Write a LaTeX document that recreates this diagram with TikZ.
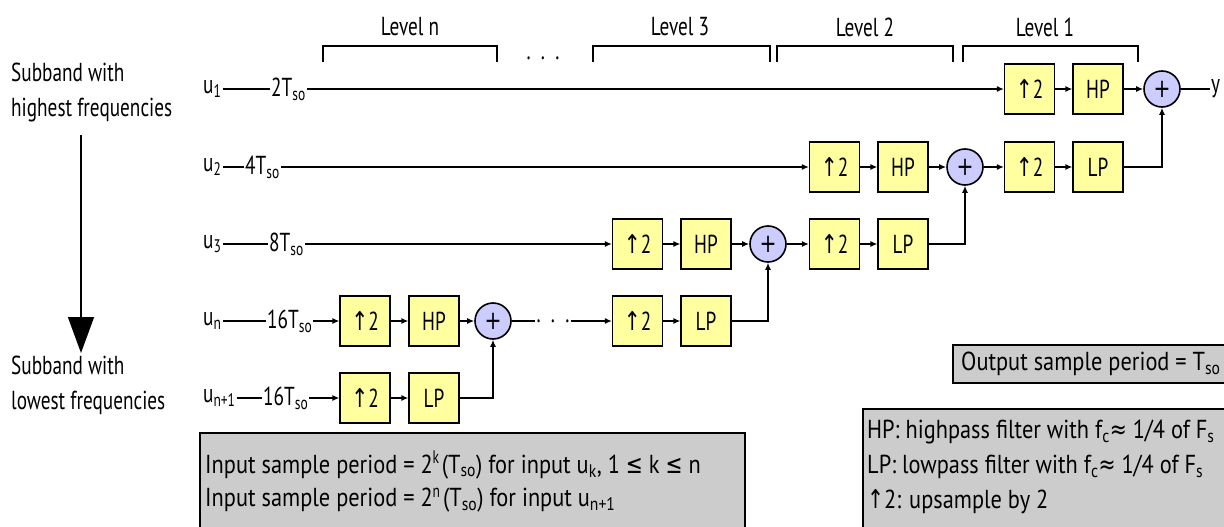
\documentclass[tikz,border=0pt]{standalone}
\usepackage{fontspec}
\setmainfont{PT Sans}[FakeStretch=0.74]
\newfontfamily\notef{PT Sans}[FakeStretch=0.86]
\newfontfamily\symf{DejaVu Sans}[FakeStretch=0.78]
\usetikzlibrary{arrows.meta}
\definecolor{boxy}{RGB}{255,255,160}
\definecolor{sumc}{RGB}{204,204,255}
\definecolor{notegray}{RGB}{204,204,204}
\newcommand\lo[1]{\textsubscript{#1}}
\newcommand\upa{{\symf ↑}}
\tikzset{
  every node/.style={font=\fontsize{26}{35}\selectfont, inner sep=1pt},
  stepbox/.style={draw, fill=boxy, line width=1.3pt, minimum width=50pt, minimum height=50pt, inner sep=0pt},
  sumnode/.style={draw, circle, fill=sumc, line width=1.6pt, minimum size=36pt, inner sep=0pt, font=\fontsize{26}{26}\symf},
  conn/.style={line width=1.3pt},
  arr/.style={conn, -{Latex[length=7pt,width=6pt]}},
  lbl/.style={anchor=west},
  notetext/.style={anchor=west, font=\fontsize{26}{35}\notef},
  notebox/.style={draw, fill=notegray, line width=1.3pt},
  bracket/.style={line width=1.3pt}
}
\begin{document}
\begin{tikzpicture}[x=1pt,y=-1pt]
\useasboundingbox (0,0) rectangle (1224,527);

% level brackets
\draw[bracket] (323,62) -- (323,46) -- (497,46) -- (497,62);
\draw[bracket] (593,62) -- (593,46) -- (770,46) -- (770,62);
\draw[bracket] (777,62) -- (777,46) -- (953,46) -- (953,62);
\draw[bracket] (963,62) -- (963,46) -- (1138,46) -- (1138,62);
\node (lvn) at (410,27) {Level n};
\node (lv3) at (680,27) {Level 3};
\node (lv2) at (865,27) {Level 2};
\node (lv1) at (1045,27) {Level 1};
\node (topdots) at (543,58) {.\ \ .\ \ .};

% left side
\node[anchor=north west, align=left] (hi) at (10,62) {Subband with\\highest frequencies};
\node[anchor=north west, align=left] (lo) at (10,355) {Subband with\\lowest frequencies};
\coordinate (arrtop) at (81,135);
\coordinate (arrbot) at (81,353);
\draw[line width=1.5pt, -{Triangle[length=36pt,width=26pt]}] (arrtop) -- (arrbot);

% blocks
\node[stepbox] (up1) at (1029.5,89) {\upa2};
\node[stepbox] (hp1) at (1098,89) {HP};
\node[sumnode] (s1) at (1162,89) {+};
\node[lbl] (yout) at (1210,89) {y};

\node[stepbox] (up2a) at (834.5,167) {\upa2};
\node[stepbox] (hp2) at (903,167) {HP};
\node[sumnode] (s2) at (965,167) {+};
\node[stepbox] (up2b) at (1029.5,167) {\upa2};
\node[stepbox] (lp2) at (1098,167) {LP};

\node[stepbox] (up3a) at (637.5,244) {\upa2};
\node[stepbox] (hp3) at (706,244) {HP};
\node[sumnode] (s3) at (768,244) {+};
\node[stepbox] (up3b) at (834.5,244) {\upa2};
\node[stepbox] (lp3) at (903,244) {LP};

\node[stepbox] (up4a) at (365,321) {\upa2};
\node[stepbox] (hp4) at (434,321) {HP};
\node[sumnode] (s4) at (493,321) {+};
\node (d4) at (553,321) {.\ \ .\ \ .};
\node[stepbox] (up4b) at (637.5,321) {\upa2};
\node[stepbox] (lp4) at (706,321) {LP};

\node[stepbox] (up5) at (365,398) {\upa2};
\node[stepbox] (lp5) at (434,398) {LP};

% inputs
\node[lbl] (u1) at (202,89) {u\lo{1}};
\node[lbl] (t1) at (270,89) {2T\lo{so}};
\node[lbl] (u2) at (202,167) {u\lo{2}};
\node[lbl] (t2) at (244,167) {4T\lo{so}};
\node[lbl] (u3) at (202,244) {u\lo{3}};
\node[lbl] (t3) at (268,244) {8T\lo{so}};
\node[lbl] (u4) at (202,321) {u\lo{n}};
\node[lbl] (t4) at (266,321) {16T\lo{so}};
\node[lbl] (u5) at (202,398) {u\lo{n+1}};
\node[lbl] (t5) at (262,398) {16T\lo{so}};

% connectors
\draw[conn] (u1) -- (t1);
\draw[arr] (t1) -- (up1);
\draw[arr] (up1) -- (hp1);
\draw[arr] (hp1) -- (s1);
\draw[conn] (s1) -- (yout);

\draw[conn] (u2) -- (t2);
\draw[arr] (t2) -- (up2a);
\draw[arr] (up2a) -- (hp2);
\draw[arr] (hp2) -- (s2);
\draw[arr] (s2) -- (up2b);
\draw[arr] (up2b) -- (lp2);
\draw[arr] (lp2.east) -| (s1.south);

\draw[conn] (u3) -- (t3);
\draw[arr] (t3) -- (up3a);
\draw[arr] (up3a) -- (hp3);
\draw[arr] (hp3) -- (s3);
\draw[arr] (s3) -- (up3b);
\draw[arr] (up3b) -- (lp3);
\draw[arr] (lp3.east) -| (s2.south);

\draw[conn] (u4) -- (t4);
\draw[arr] (t4) -- (up4a);
\draw[arr] (up4a) -- (hp4);
\draw[arr] (hp4) -- (s4);
\draw[conn] (s4) -- (d4);
\draw[arr] (d4) -- (up4b);
\draw[arr] (up4b) -- (lp4);
\draw[arr] (lp4.east) -| (s3.south);

\draw[conn] (u5) -- (t5);
\draw[arr] (t5) -- (up5);
\draw[arr] (up5) -- (lp5);
\draw[arr] (lp5.east) -| (s4.south);

% notes
\draw[notebox] (200,433) rectangle (745,540);
\node[notetext] (n1) at (204,465) {Input sample period = 2$^{\mathrm{k}}$(T\lo{so}) for input u\lo{k}, 1 {\symf ≤} k {\symf ≤} n};
\node[notetext] (n2) at (204,500) {Input sample period = 2$^{\mathrm{n}}$(T\lo{so}) for input u\lo{n+1}};

\draw[notebox] (953,345) rectangle (1240,383);
\node[notetext] (out) at (960,364) {Output sample period = T\lo{so}};

\draw[notebox] (863,409) rectangle (1240,540);
\node[notetext] (g1) at (866,432) {HP: highpass filter with f\lo{c}{\symf ≈} 1/4 of F\lo{s}};
\node[notetext] (g2) at (866,467) {LP: lowpass filter with f\lo{c}{\symf ≈} 1/4 of F\lo{s}};
\node[notetext] (g3) at (866,502) {\upa2: upsample by 2};
\end{tikzpicture}
\end{document}
